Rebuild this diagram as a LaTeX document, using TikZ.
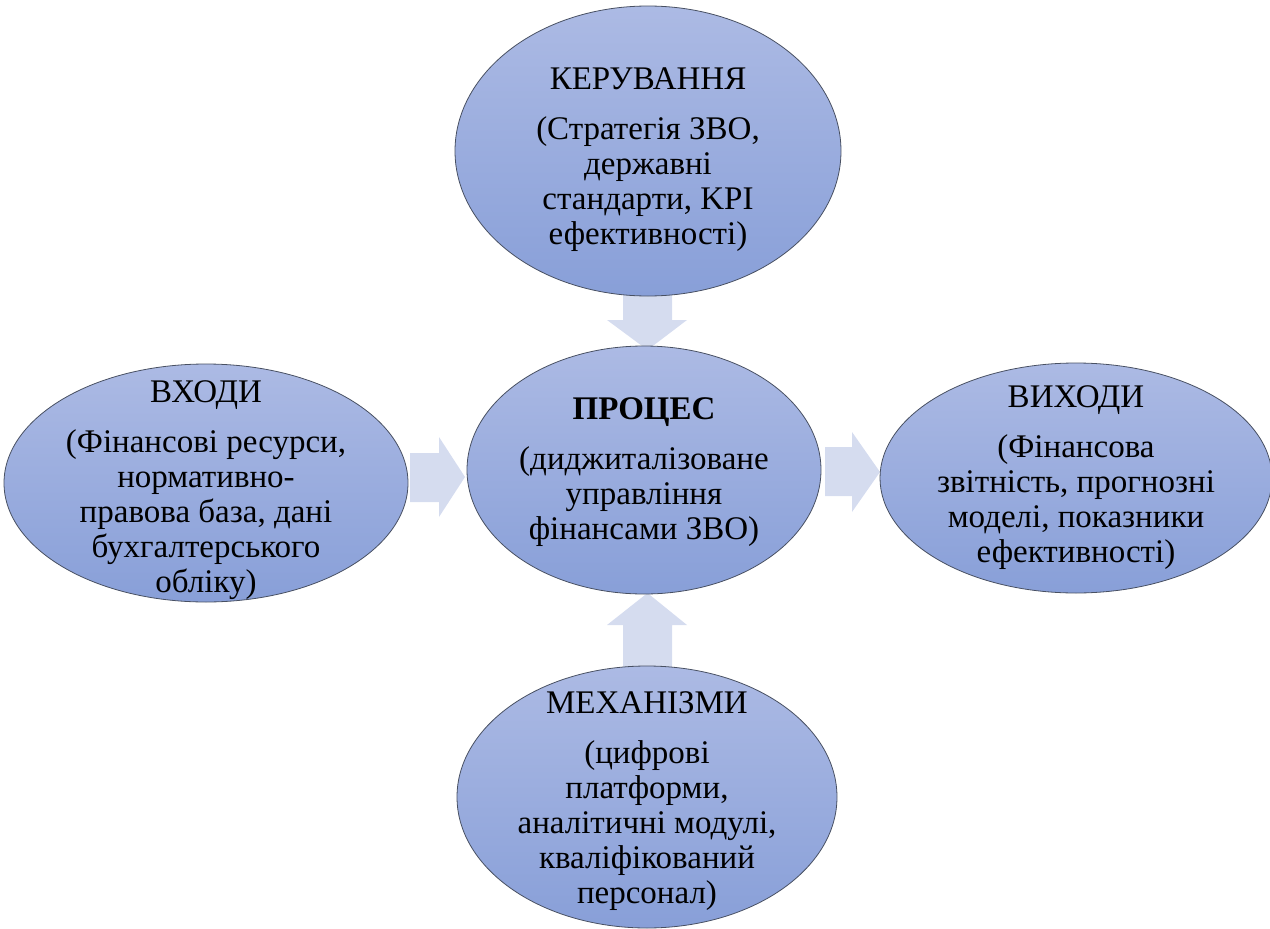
\documentclass[tikz,border=0pt]{standalone}
\usepackage{fontspec}
\setmainfont{Liberation Serif}
\usetikzlibrary{shapes.geometric}
\definecolor{elltop}{RGB}{172,186,228}
\definecolor{ellbot}{RGB}{136,159,216}
\definecolor{elldraw}{RGB}{72,80,98}
\definecolor{arrowc}{RGB}{213,220,239}
\begin{document}
\begin{tikzpicture}[x=1pt,y=-1pt,
  ellbox/.style={ellipse, draw=elldraw, line width=0.8pt, top color=elltop, bottom color=ellbot, inner sep=0pt},
  elltext/.style={align=center, inner sep=0pt, font=\fontsize{33}{35}\selectfont},
  blockarrow/.style={fill=arrowc, draw=none}]
\useasboundingbox (0,0) rectangle (1270,929);
% block arrows (behind the ellipses)
\fill[blockarrow] (623,285) -- (672,285) -- (672,320) -- (687,320) -- (647.5,350) -- (607,320) -- (623,320) -- cycle;
\fill[blockarrow] (410,453) -- (439,453) -- (439,437) -- (465,477) -- (439,517) -- (439,502) -- (410,502) -- cycle;
\fill[blockarrow] (825,447) -- (852,447) -- (852,432) -- (880,472) -- (852,512) -- (852,496) -- (825,496) -- cycle;
\fill[blockarrow] (623,685) -- (672,685) -- (672,625) -- (687,625) -- (647.5,593) -- (607,625) -- (623,625) -- cycle;
% ellipses
\node[ellbox, minimum width=386pt, minimum height=290pt] (ker) at (648,151) {};
\node[ellbox, minimum width=354pt, minimum height=248pt] (proc) at (644,470) {};
\node[ellbox, minimum width=404pt, minimum height=238pt] (vkh) at (206,483) {};
\node[ellbox, minimum width=392pt, minimum height=230pt] (vykh) at (1076,478) {};
\node[ellbox, minimum width=380pt, minimum height=262pt] (mekh) at (647,797) {};
% texts
\node[elltext] (kert) at (648,160) {КЕРУВАННЯ\\[15pt](Стратегія ЗВО,\\державні\\стандарти, KPI\\ефективності)};
\node[elltext] (proct) at (644,472.5) {\textbf{ПРОЦЕС}\\[15pt](диджиталізоване\\управління\\фінансами ЗВО)};
\node[elltext] (vkht) at (206,490.5) {ВХОДИ\\[15pt](Фінансові ресурси,\\нормативно-\\правова база, дані\\бухгалтерського\\обліку)};
\node[elltext] (vykht) at (1076,477.5) {ВИХОДИ\\[15pt](Фінансова\\звітність, прогнозні\\моделі, показники\\ефективності)};
\node[elltext] (mekht) at (647,801.5) {МЕХАНІЗМИ\\[15pt](цифрові\\платформи,\\аналітичні модулі,\\кваліфікований\\персонал)};
\end{tikzpicture}
\end{document}
